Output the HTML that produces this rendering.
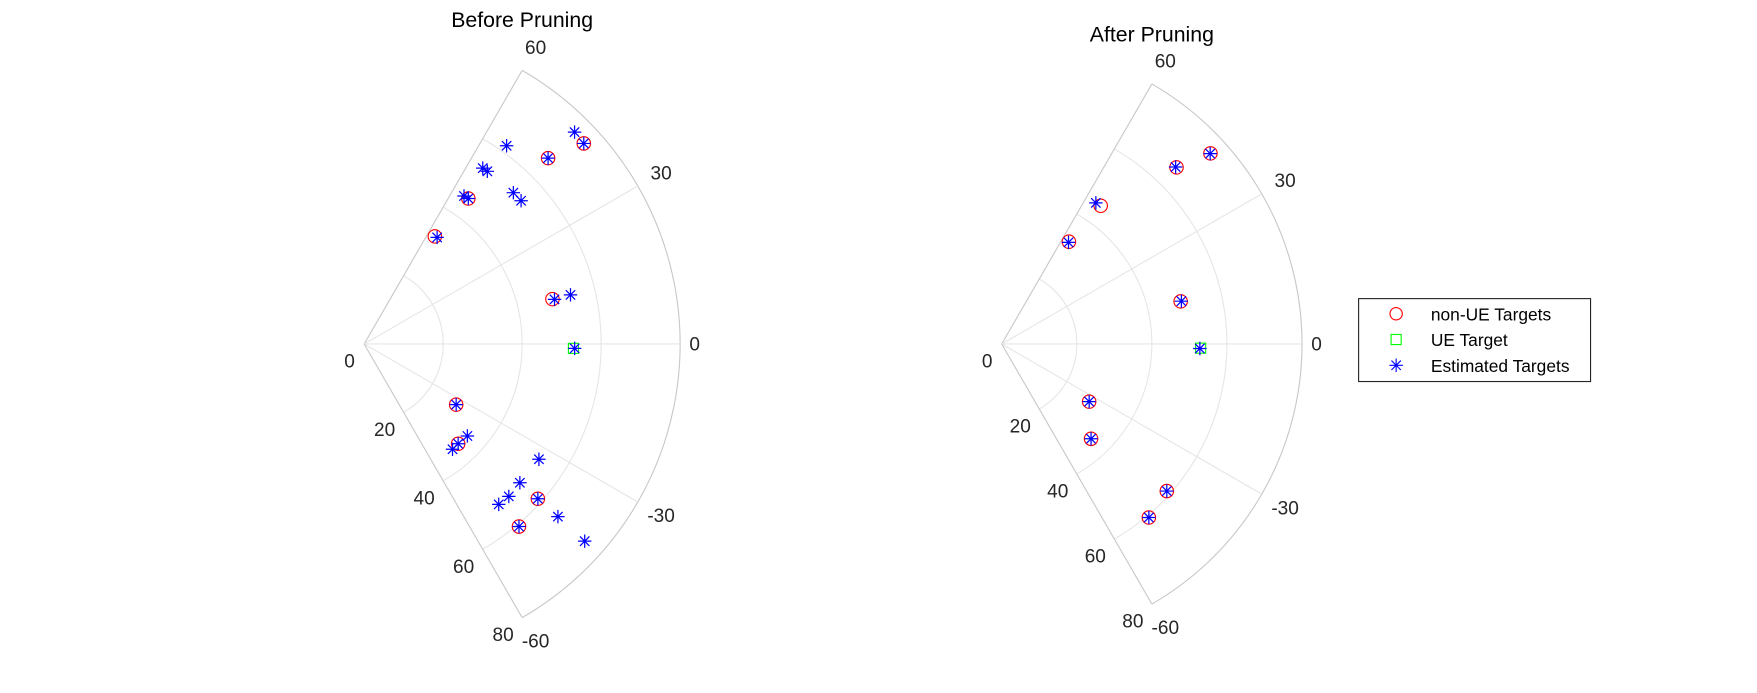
<!DOCTYPE html>
<html><head><meta charset="utf-8"><style>
html,body{margin:0;padding:0;background:#fff;}
svg{display:block;font-family:"Liberation Sans",Arial,sans-serif;}
</style></head><body>
<svg width="1757" height="693" viewBox="0 0 1757 693" xmlns="http://www.w3.org/2000/svg">
<g id="chart" transform="scale(1.1205)">
<g id="legend">
<rect x="1212.5" y="266.5" width="207" height="74" fill="#fff" stroke="#262626" stroke-width="1"/>
<g><circle cx="1246" cy="280" r="5.5" fill="none" stroke="#ff0000" stroke-width="1"/><text x="1277" y="286" font-size="15.5" fill="#000">non-UE Targets</text></g>
<g><rect x="1241.5" y="298.5" width="9" height="9" fill="none" stroke="#00ff00" stroke-width="1"/><text x="1277" y="309" font-size="15.5" fill="#000">UE Target</text></g>
<g><path d="M1246 320v12M1240 326h12M1241.8 321.8l8.4 8.4M1250.2 321.8l-8.4 8.4" stroke="#0000ff" stroke-width="1"/><text x="1277" y="332" font-size="15.5" fill="#000">Estimated Targets</text></g>
</g>
</g>
</svg>
<script>
// Data
const nonUETheta = [45.3, 42.4, 54.4, 56.7, 13.4, -33.4, -46.7, -41.7, -49.7];
const nonUER = [66.2, 75.3, 45.3, 32.6, 49.0, 27.9, 34.7, 58.9, 60.6];
const ueTheta = [-1.2];
const ueR = [53.0];
const estBeforeTheta = [45.2, 42.4, 45.3, 54.3, 56.0, 54.5, 45.4, 42.4, 56.0, 54.4, 55.6, 13.2, 13.4, -1.2, -33.4, -41.7, -46.7, -50.0, -33.4, -41.7, -46.5, -50.0, -41.7, -49.7, -41.7, -41.8];
const estBeforeR = [75.6, 75.3, 66.2, 61.8, 53.7, 53.7, 53.8, 53.8, 45.2, 45.3, 32.7, 49.5, 53.7, 53.3, 27.9, 35.0, 34.7, 34.8, 53.0, 52.8, 53.2, 53.0, 58.9, 60.6, 65.7, 74.9];
const estAfterTheta = [42.4, 45.5, 56.3, 56.7, 13.4, -1.3, -33.4, -46.7, -41.7, -49.7];
const estAfterR = [75.2, 66.1, 45.2, 32.4, 49.2, 52.8, 27.9, 34.7, 58.9, 60.6];
const thetaTicks = [60, 30, 0, -30, -60];
const rTicks = [0, 20, 40, 60, 80];

const NS = "http://www.w3.org/2000/svg";
const svg = document.getElementById('chart');
function mk(tag, attrs, parent){const e=document.createElementNS(NS,tag);for(const k in attrs)e.setAttribute(k,attrs[k]);parent.appendChild(e);return e;}

function drawPolar(cx, cy, R, title, titleY, estT, estR, key){
  const g = mk('g',{},svg);
  
  
  const rMax = 80;
  const px = (t, r) => cx + r / rMax * R * Math.cos(t * Math.PI / 180);
  const py = (t, r) => cy - r / rMax * R * Math.sin(t * Math.PI / 180);
  rTicks.forEach(rv => {
    if (rv === 0) return;
    const a = mk('path',{d:`M${px(60,rv)} ${py(60,rv)} A${rv/rMax*R} ${rv/rMax*R} 0 0 1 ${px(-60,rv)} ${py(-60,rv)}`,fill:'none',stroke:rv===rMax?'#c8c8c8':'#e6e6e6','stroke-width':1},g);
    
    
  });
  thetaTicks.forEach(tv => {
    const l = mk('line',{x1:cx,y1:cy,x2:px(tv,rMax),y2:py(tv,rMax),stroke:Math.abs(tv)===60?'#c8c8c8':'#e6e6e6','stroke-width':1},g);
    
    
    const off = tv === 0 ? 13 : 24;
    const rr = R + off;
    const tx = mk('text',{x:cx+rr*Math.cos(tv*Math.PI/180),y:cy-rr*Math.sin(tv*Math.PI/180)+6,'font-size':17,fill:'#262626','text-anchor':'middle'},g);
    tx.textContent = tv;
    
    
  });
  rTicks.forEach(rv => {
    const tx = mk('text',{x:px(-60,rv)-(rv===0?13:17),y:py(-60,rv)+21,'font-size':17,fill:'#262626','text-anchor':'middle'},g);
    tx.textContent = rv;
    
    
  });
  const t = mk('text',{x:px(60,rMax),y:titleY,'font-size':19,fill:'#000','text-anchor':'middle'},g);
  t.textContent = title;
  
  
  nonUETheta.forEach((tv,i) => {
    const c = mk('circle',{cx:px(tv,nonUER[i]),cy:py(tv,nonUER[i]),r:6,fill:'none',stroke:'#ff0000','stroke-width':1},g);
    
    
  });
  ueTheta.forEach((tv,i) => {
    const x = px(tv,ueR[i]), y = py(tv,ueR[i]);
    const s = mk('rect',{x:x-4.5,y:y-4.5,width:9,height:9,fill:'none',stroke:'#00ff00','stroke-width':1},g);
    
    
  });
  estT.forEach((tv,i) => {
    const x = px(tv,estR[i]), y = py(tv,estR[i]);
    const p = mk('path',{d:`M${x} ${y-6}v12M${x-6} ${y}h12M${x-4.2} ${y-4.2}l8.4 8.4M${x+4.2} ${y-4.2}l-8.4 8.4`,stroke:'#0000ff','stroke-width':1.1,fill:'none'},g);
    
    
  });
}
drawPolar(325, 307, 282, 'Before Pruning', 24, estBeforeTheta, estBeforeR, 'before-pruning');
drawPolar(894, 307, 268, 'After Pruning', 37, estAfterTheta, estAfterR, 'after-pruning');
</script>
</body></html>
